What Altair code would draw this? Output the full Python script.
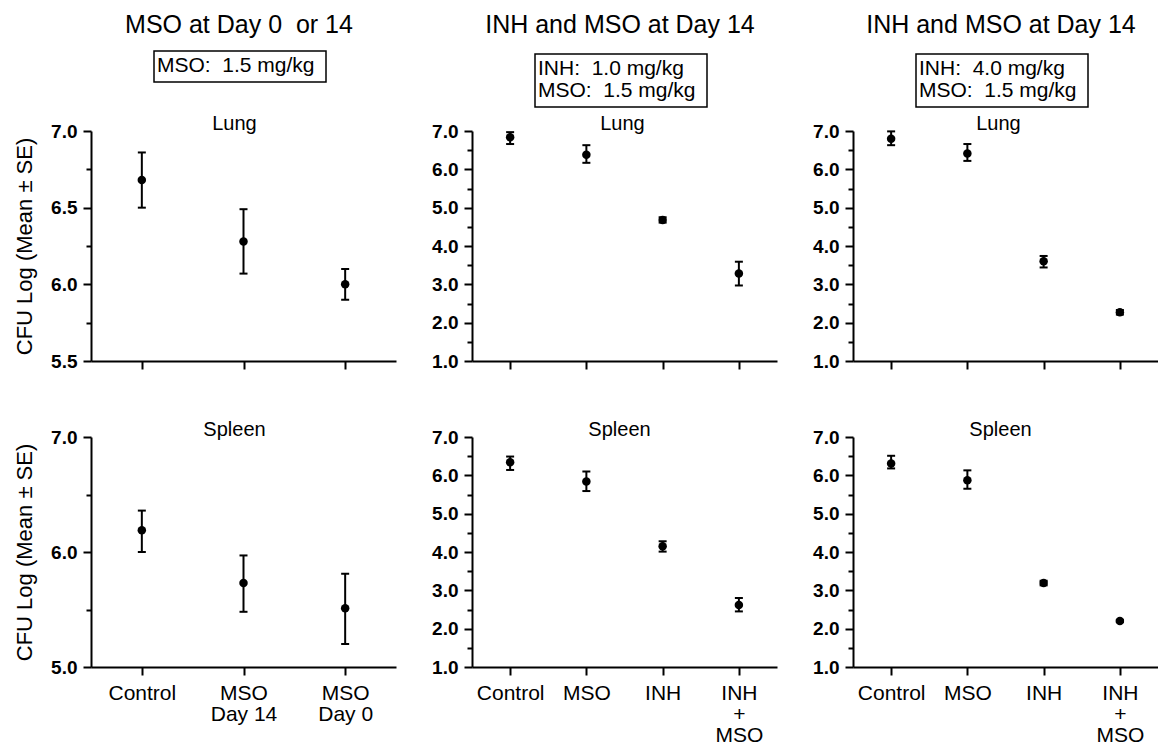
import altair as alt
import pandas as pd

FONT = "Liberation Sans"
NB = "\u00a0"

# ---------------- data ----------------
cats_a = ["Control", "MSO\nDay 14", "MSO\nDay 0"]
cats_b = ["Control", "MSO", "INH", "INH\n+\nMSO"]

lung_a_mean = [6.68, 6.28, 6.00]
lung_a_lo = [6.50, 6.07, 5.90]
lung_a_hi = [6.86, 6.49, 6.10]
spleen_a_mean = [6.19, 5.73, 5.51]
spleen_a_lo = [6.00, 5.48, 5.20]
spleen_a_hi = [6.36, 5.97, 5.81]

lung_b_mean = [6.84, 6.38, 4.68, 3.28]
lung_b_lo = [6.66, 6.17, 4.61, 2.97]
lung_b_hi = [6.97, 6.63, 4.75, 3.59]
spleen_b_mean = [6.34, 5.84, 4.15, 2.62]
spleen_b_lo = [6.14, 5.59, 4.01, 2.45]
spleen_b_hi = [6.49, 6.10, 4.28, 2.80]

lung_c_mean = [6.80, 6.41, 3.60, 2.27]
lung_c_lo = [6.63, 6.22, 3.44, 2.21]
lung_c_hi = [6.99, 6.66, 3.74, 2.33]
spleen_c_mean = [6.31, 5.87, 3.19, 2.20]
spleen_c_lo = [6.18, 5.65, 3.13, 2.17]
spleen_c_hi = [6.51, 6.13, 3.25, 2.23]

titles = ["MSO at Day 0" + NB + " or 14", "INH and MSO at Day 14", "INH and MSO at Day 14"]
boxes = [
    "MSO:" + NB + " 1.5 mg/kg",
    "INH:" + NB + " 1.0 mg/kg\nMSO:" + NB + " 1.5 mg/kg",
    "INH:" + NB + " 4.0 mg/kg\nMSO:" + NB + " 1.5 mg/kg",
]
organs = ["Lung", "Spleen"]

ticks_a_lung = [5.5, 5.75, 6.0, 6.25, 6.5, 6.75, 7.0]
ticks_a_spleen = [5.0, 5.5, 6.0, 6.5, 7.0]
ticks_bc = [1.0, 1.5, 2.0, 2.5, 3.0, 3.5, 4.0, 4.5, 5.0, 5.5, 6.0, 6.5, 7.0]

# ---------------- layout ----------------
W = 305
H = 230
HH = 39


def panel(cats, mean, lo, hi, organ, ydom, yvals, major_test, show_ytitle, show_xlabels, dx):
    df = pd.DataFrame({"group": cats, "mean": mean, "lo": lo, "hi": hi})
    xaxis = alt.Axis(
        title=None,
        labels=show_xlabels,
        labelExpr="split(datum.label, '\\n')",
        labelAngle=0,
        labelFontSize=21,
        labelLineHeight=21,
        labelPadding=7,
        labelBaseline="top",
        tickSize=8,
    )
    x = alt.X("group:N", scale=alt.Scale(type="point", padding=0.5, domain=cats), axis=xaxis, sort=cats)
    ykw = dict(
        values=yvals,
        labelExpr=f"({major_test}) ? format(datum.value, '.1f') : ''",
        tickSize={"condition": {"test": major_test, "value": 8}, "value": 5},
        labelFontSize=19,
        labelFontWeight="bold",
        labelPadding=6,
        titleFontSize=22,
        titleFontWeight="normal",
        titlePadding=14,
    )
    ykw["title"] = "CFU Log (Mean \u00b1 SE)" if show_ytitle else None
    yaxis = alt.Axis(**ykw)
    yscale = alt.Scale(domain=ydom, nice=False, zero=False)

    base = alt.Chart(df).encode(x=x)
    rule = base.mark_rule(strokeWidth=2, color="black").encode(
        y=alt.Y("lo:Q", scale=yscale, axis=yaxis), y2="hi:Q"
    )
    cap_lo = base.mark_tick(size=8, thickness=2, color="black", opacity=1).encode(
        y=alt.Y("lo:Q", scale=yscale, axis=yaxis)
    )
    cap_hi = base.mark_tick(size=8, thickness=2, color="black", opacity=1).encode(
        y=alt.Y("hi:Q", scale=yscale, axis=yaxis)
    )
    pts = base.mark_circle(size=72, color="black", opacity=1).encode(
        y=alt.Y("mean:Q", scale=yscale, axis=yaxis)
    )
    label = alt.Chart(pd.DataFrame({"organ": [organ]})).mark_text(
        fontSize=20, font=FONT, align="center", baseline="alphabetic", color="black"
    ).encode(text="organ:N", x=alt.value(W / 2 + dx), y=alt.value(-1))
    return alt.layer(rule, cap_lo, cap_hi, pts, label).properties(width=W, height=H)


def header(title, box, nlines):
    df = pd.DataFrame({"title": [title], "box": [box]})
    base = alt.Chart(df)
    box_left = 63
    box_w = 172
    if nlines == 1:
        y1, y2 = 35, 66
    else:
        y1, y2 = 38, 91
    t = base.mark_text(fontSize=25, font=FONT, align="center", baseline="alphabetic", color="black").encode(
        text="title:N", x=alt.value(148), y=alt.value(17)
    )
    r = base.mark_rect(fill="white", stroke="black", strokeWidth=1.5).encode(
        x=alt.value(box_left), x2=alt.value(box_left + box_w), y=alt.value(y1), y2=alt.value(y2)
    )
    bt = base.mark_text(
        fontSize=21, font=FONT, align="left", baseline="top", lineBreak="\n", lineHeight=22, color="black"
    ).encode(text="box:N", x=alt.value(box_left + 3), y=alt.value(y1 + 4))
    return alt.layer(t, r, bt).properties(width=W, height=HH)


major_a_lung = "(datum.value * 4) % 2 == 0"
major_1 = "datum.value % 1 == 0"

charts = [
    header(titles[0], boxes[0], 1),
    header(titles[1], boxes[1], 2),
    header(titles[2], boxes[2], 2),
    panel(cats_a, lung_a_mean, lung_a_lo, lung_a_hi, organs[0], [5.5, 7.0], ticks_a_lung, major_a_lung, True, False, -9),
    panel(cats_b, lung_b_mean, lung_b_lo, lung_b_hi, organs[0], [1.0, 7.0], ticks_bc, major_1, False, False, -2),
    panel(cats_b, lung_c_mean, lung_c_lo, lung_c_hi, organs[0], [1.0, 7.0], ticks_bc, major_1, False, False, -7),
    panel(cats_a, spleen_a_mean, spleen_a_lo, spleen_a_hi, organs[1], [5.0, 7.0], ticks_a_spleen, major_1, True, True, -9),
    panel(cats_b, spleen_b_mean, spleen_b_lo, spleen_b_hi, organs[1], [1.0, 7.0], ticks_bc, major_1, False, True, -5),
    panel(cats_b, spleen_c_mean, spleen_c_lo, spleen_c_hi, organs[1], [1.0, 7.0], ticks_bc, major_1, False, True, -5),
]

chart = (
    alt.concat(*charts, columns=3, spacing={"row": 76, "column": 76}, bounds="flush")
    .properties(padding={"left": 5, "top": 5, "right": 0, "bottom": 0})
    .configure_view(stroke=None)
    .configure_axis(
        grid=False,
        domainColor="black",
        domainWidth=2,
        tickColor="black",
        tickWidth=2,
        labelColor="black",
        titleColor="black",
        labelFont=FONT,
        titleFont=FONT,
    )
    .configure_title(font=FONT, color="black")
)

chart.save("out.html", embed_options={"renderer": "svg", "actions": False})
